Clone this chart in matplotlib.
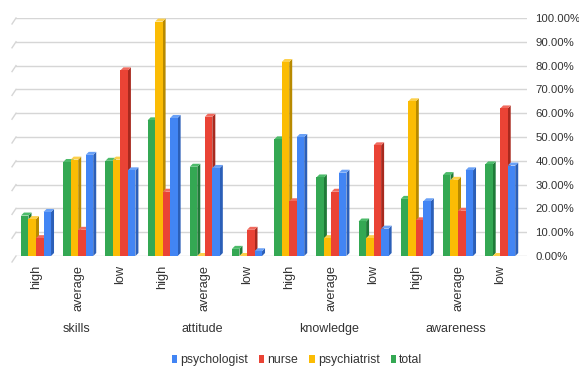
import matplotlib
matplotlib.use("Agg")
import matplotlib.pyplot as plt
from matplotlib.patches import Polygon, Patch
import numpy as np

plt.rcParams['font.family'] = ['Liberation Sans', 'DejaVu Sans']

groups = ["skills", "attitude", "knowledge", "awareness"]
levels = ["high", "average", "low"]

# Shares (%) per level within each group, order: skills, attitude, knowledge, awareness
total = [17, 39.5, 40, 57, 37.5, 3, 49, 33, 14.5, 24, 34, 38.5]
psychiatrist = [15.5, 40.5, 40.5, 98.5, 0, 0, 81.5, 7.5, 7.5, 65, 32, 0]
nurse = [7.5, 11, 78, 27, 58.5, 11, 23, 27, 46.5, 15, 19, 62]
psychologist = [18.5, 42.5, 36, 58, 37, 2, 50, 35, 11.5, 23, 36, 38]

series = [
    ("total", total, "#34a853", "#1f7a38", "#4cbb6a"),
    ("psychiatrist", psychiatrist, "#fbbc04", "#b88a00", "#fdd04a"),
    ("nurse", nurse, "#ea4335", "#a8291e", "#f06a5e"),
    ("psychologist", psychologist, "#4285f4", "#2b5fb8", "#6aa1f7"),
]
legend_order = ["psychologist", "nurse", "psychiatrist", "total"]

W, H, DPI = 579, 366, 100
fig = plt.figure(figsize=(W / DPI, H / DPI), dpi=DPI)
left_px, right_px, top_px, bottom_px = 16, 527, 18, 256
ax = fig.add_axes([left_px / W, 1 - bottom_px / H,
                   (right_px - left_px) / W, (bottom_px - top_px) / H])

n = len(total)
x = np.arange(n)
px_per_x = 42.2
xmin = -(36 - left_px) / px_per_x
xmax = xmin + (right_px - left_px) / px_per_x
ax.set_xlim(xmin, xmax)
ax.set_ylim(0, 100)
px_per_y = (bottom_px - top_px) / 100.0

# gridlines with a small slanted foot on the left wall
for v in range(0, 101, 10):
    ax.axhline(v, color="#d6d6d6", lw=1.0, zorder=0)
    ax.plot([xmin, xmin - 4 / px_per_x], [v, v - 6 / px_per_y],
            color="#d6d6d6", lw=1.0, clip_on=False, zorder=0)

bw = 0.178
ddx = 3 / px_per_x
ddy = 3 / px_per_y
offsets = (np.arange(4) - 1.5) * bw
for k, (name, vals, front, side, top) in enumerate(series):
    for i, v in enumerate(vals):
        x0 = x[i] + offsets[k] - bw / 2
        x1 = x0 + bw
        z = 2 + k
        ax.add_patch(Polygon([(x1, 0), (x1, v), (x1 + ddx, v + ddy), (x1 + ddx, ddy)],
                             closed=True, facecolor=side, edgecolor="none", zorder=z))
        ax.add_patch(Polygon([(x0, v), (x1, v), (x1 + ddx, v + ddy), (x0 + ddx, v + ddy)],
                             closed=True, facecolor=top, edgecolor="none", zorder=z))
        ax.bar(x0, v, width=bw, align="edge", color=front, edgecolor="none", zorder=z)

for s in ax.spines.values():
    s.set_visible(False)

txt = "#333333"
ax.yaxis.tick_right()
ax.set_yticks(range(0, 101, 10))
ax.set_yticklabels([f"{v:.2f}%" for v in range(0, 101, 10)], fontsize=8.2, color=txt)
ax.tick_params(axis="y", length=0, pad=6)

ax.set_xticks(x)
ax.set_xticklabels(levels * len(groups), rotation=90, fontsize=9.2, color=txt,
                   ha="right", va="center", rotation_mode="anchor")
ax.tick_params(axis="x", length=0, pad=6.5)

for g, name in enumerate(groups):
    xc = g * 3 + 1 - 0.05
    xf = ax.transData.transform((xc, 0))[0] / W
    fig.text(xf, 1 - 329 / H, name, ha="center", va="center", fontsize=9, color=txt)

colors = {s[0]: s[2] for s in series}
handles = [Patch(facecolor=colors[nm], edgecolor="none") for nm in legend_order]
fig.legend(handles, legend_order, loc="center", bbox_to_anchor=(297 / W, 1 - 360 / H),
           ncol=4, frameon=False, fontsize=8.8, handlelength=0.45, handleheight=0.6,
           handletextpad=0.25, columnspacing=0.9, labelcolor=txt)

fig.savefig("out.png", dpi=DPI)
